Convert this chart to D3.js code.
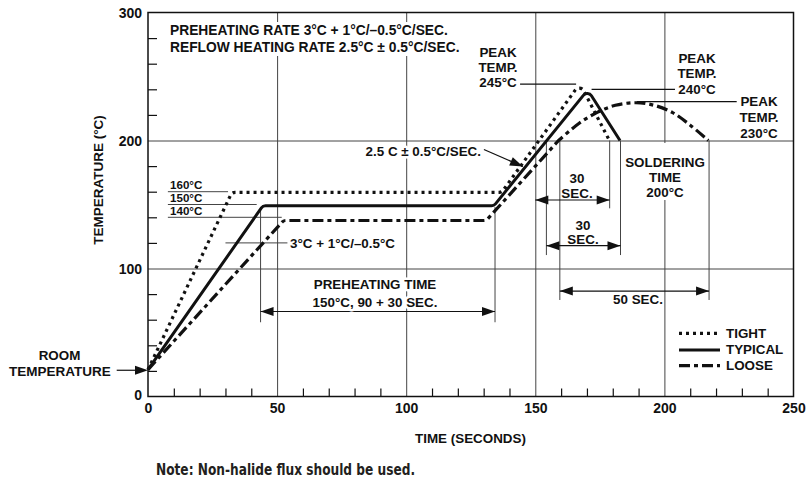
<!DOCTYPE html>
<html><head><meta charset="utf-8">
<script src="https://cdn.jsdelivr.net/npm/d3@7"></script>
<style>
body{margin:0;background:#fff}
svg text{font-family:"Liberation Sans",Arial,Helvetica,sans-serif;font-weight:bold;fill:#111}
</style></head><body>
<svg id="c" width="807" height="479"></svg>
<script>
// ---------- data ----------
const xTickLabels = [0, 50, 100, 150, 200, 250];
const yTickLabels = [0, 100, 200, 300];
const xGrid = [50, 100, 150, 200];
const yGrid = [100, 200];
const roomTemp = 20.5;
// profiles: [time (s), temperature (°C)]
const tight   = [[0,21],[32.5,159.5],[137,159.5],[167.3,244.5],[178.7,200]];
const typical = [[0,21],[44.5,149],[134,149],[170.3,239.5],[182.8,200]];
const looseRamp = [[0,21],[52.5,137.5],[131,137.5],[159,200]];
const looseArc  = [[159,200],[167,213.5],[174,222],[181,227.5],[189,229.5],[196,227.5],[203,222],[210,212],[217,200]];
const seriesNames = ["TIGHT","TYPICAL","LOOSE"];

// ---------- setup ----------
const svg = d3.select("#c");
const x = d3.scaleLinear().domain([0,250]).range([148,793.5]);
const y = d3.scaleLinear().domain([0,300]).range([396.5,12.5]);
const X0 = x(0), X1 = x(250), Y0 = y(0), Y1 = y(300);
const ink = "#111", grid = "#444";

// grid lines via axes
svg.append("g").attr("transform",`translate(0,${Y0})`)
  .call(d3.axisBottom(x).tickValues(xGrid).tickSize(-(Y0-Y1)).tickFormat(""))
  .call(g=>g.select(".domain").remove())
  .selectAll("line").attr("stroke",grid).attr("stroke-width",1);
svg.append("g").attr("transform",`translate(${X0},0)`)
  .call(d3.axisLeft(y).tickValues(yGrid).tickSize(-(X1-X0)).tickFormat(""))
  .call(g=>g.select(".domain").remove())
  .selectAll("line").attr("stroke",grid).attr("stroke-width",1);

// minor ticks
svg.append("g").attr("transform",`translate(0,${Y0})`)
  .call(d3.axisBottom(x).tickValues(d3.range(10,250,10).filter(v=>v%50)).tickSize(-8).tickFormat(""))
  .call(g=>g.select(".domain").remove())
  .selectAll("line").attr("stroke",ink).attr("stroke-width",1.2);
svg.append("g").attr("transform",`translate(${X0},0)`)
  .call(d3.axisLeft(y).tickValues(d3.range(20,300,20).filter(v=>v%100)).tickSize(-9).tickFormat(""))
  .call(g=>g.select(".domain").remove())
  .selectAll("line").attr("stroke",ink).attr("stroke-width",1.2);

// tick labels
const xa = svg.append("g").attr("transform",`translate(0,${Y0})`)
  .call(d3.axisBottom(x).tickValues(xTickLabels).tickSize(0).tickPadding(7));
xa.select(".domain").remove();
xa.selectAll("text").attr("font-size",14).attr("font-family",null).attr("fill",ink).attr("dy","0.71em");
const ya = svg.append("g").attr("transform",`translate(${X0-5},0)`)
  .call(d3.axisLeft(y).tickValues(yTickLabels).tickSize(0).tickPadding(1));
ya.select(".domain").remove();
ya.selectAll("text").attr("font-size",14).attr("font-family",null).attr("fill",ink)
  .attr("dy", d => d===0 ? "0.2em" : "0.36em");

// frame
svg.append("rect").attr("x",X0).attr("y",Y1).attr("width",X1-X0).attr("height",Y0-Y1)
  .attr("fill","none").attr("stroke",ink).attr("stroke-width",1.5);

// helpers
function txt(px, py, s, anchor="start", size=13.4, halo=false){
  const t = svg.append("text").attr("x",px).attr("y",py).attr("text-anchor",anchor)
    .attr("font-size",size).text(s);
  if(halo) t.attr("stroke","#fff").attr("stroke-width",5).attr("stroke-linejoin","round").attr("paint-order","stroke");
  return t;
}
function seg(x1,y1,x2,y2,w=1,c=grid){
  svg.append("line").attr("x1",x(x1)).attr("y1",y(y1)).attr("x2",x(x2)).attr("y2",y(y2))
    .attr("stroke",c).attr("stroke-width",w);
}
function head(tx, ty, ang, len=13, hw=4.5){
  const ca=Math.cos(ang), sa=Math.sin(ang);
  const bx=tx-len*ca, by=ty-len*sa;
  svg.append("path").attr("d",`M${tx},${ty}L${bx-hw*sa},${by+hw*ca}L${bx+hw*sa},${by-hw*ca}Z`).attr("fill",ink);
}
function dim(x1,x2,yv){
  const py=y(yv);
  svg.append("line").attr("x1",x(x1)).attr("x2",x(x2)).attr("y1",py).attr("y2",py).attr("stroke",ink).attr("stroke-width",1.2);
  head(x(x1),py,Math.PI); head(x(x2),py,0);
}
function rounded(pts, r){
  const p = d3.path();
  p.moveTo(pts[0][0],pts[0][1]);
  for(let i=1;i<pts.length-1;i++) p.arcTo(pts[i][0],pts[i][1],pts[i+1][0],pts[i+1][1],r);
  p.lineTo(pts[pts.length-1][0],pts[pts.length-1][1]);
  return p.toString();
}
const px = d => [x(d[0]), y(d[1])];

// header background
svg.append("rect").attr("x",166).attr("y",22).attr("width",294).attr("height",34).attr("fill","#fff");
// soldering background
svg.append("rect").attr("x",624).attr("y",143).attr("width",83).attr("height",57).attr("fill","#fff");

// reference lines (thin)
seg(7.7,160,31,160); seg(7.7,150,42.1,150); seg(7.7,140,51.8,140);
seg(30,120,54,120);
seg(43.6,148,43.6,58); seg(134.4,148,134.4,58);
seg(178.8,200,178.8,147); seg(154.3,200,154.3,110.5); seg(183,200,183,110.5);
seg(159.5,200,159.5,75.4); seg(217.3,200,217.3,75.4);
seg(144.1,244.1,165.8,244.1,1.2,ink);
seg(171.8,240,204.1,240,1.2,ink);
seg(189.3,230.3,228,230.3,1.2,ink);

// curves
const styles = {
  TIGHT:   {dash:"3,4", w:3.2},
  TYPICAL: {dash:null, w:3},
  LOOSE:   {dash:"11,4,4,4", w:3.2}
};
function curve(d, st){
  svg.append("path").attr("d",d).attr("fill","none").attr("stroke",ink)
    .attr("stroke-width",st.w).attr("stroke-dasharray",st.dash).attr("stroke-linejoin","round");
}
curve(rounded(tight.map(px),5), styles.TIGHT);
curve(rounded(typical.map(px),5), styles.TYPICAL);
const arcD = d3.line().x(d=>x(d[0])).y(d=>y(d[1])).curve(d3.curveCatmullRom.alpha(0.5))(looseArc);
curve(rounded(looseRamp.map(px),5) + arcD.replace(/^M[^A-Za-z]*/,""), styles.LOOSE);

// dimension arrows
dim(43.6,134.4,66.4);
dim(150,178.8,153.5);
dim(154.3,183,117.8);
dim(159.5,217.3,82.4);

// room temperature arrow
svg.append("line").attr("x1",116.7).attr("x2",X0-4).attr("y1",y(roomTemp)).attr("y2",y(roomTemp)).attr("stroke",ink).attr("stroke-width",1.2);
head(X0,y(roomTemp),0);
// 2.5C arrow
svg.append("line").attr("x1",x(130.1)).attr("y1",y(193)).attr("x2",x(145.2)).attr("y2",y(179.7)).attr("stroke",ink).attr("stroke-width",1.2);
head(x(145.2),y(179.7),Math.atan2(y(179.7)-y(193),x(145.2)-x(130.1)));

// texts
txt(170,35,"PREHEATING RATE 3°C + 1°C/–0.5°C/SEC.","start",13.8);
txt(170,51.5,"REFLOW HEATING RATE 2.5°C ± 0.5°C/SEC.","start",13.8);
txt(170,189,"160°C","start",11.6); txt(170,202.3,"150°C","start",11.6); txt(170,215.4,"140°C","start",11.6);
txt(290,247.5,"3°C + 1°C/–0.5°C");
txt(375,289,"PREHEATING TIME","middle",13.4,true);
txt(375,307,"150°C, 90 + 30 SEC.","middle",13.4,true);
txt(481,156,"2.5 C ± 0.5°C/SEC.","end",13.4,true);
txt(498,56.7,"PEAK","middle"); txt(498,71.7,"TEMP.","middle"); txt(498,87.3,"245°C","middle");
txt(697,63.3,"PEAK","middle"); txt(697,78.3,"TEMP.","middle"); txt(697,94,"240°C","middle");
txt(759,106,"PEAK","middle"); txt(759,121.7,"TEMP.","middle"); txt(759,137.7,"230°C","middle");
txt(665,167,"SOLDERING","middle"); txt(665,181.7,"TIME","middle"); txt(665,197,"200°C","middle");
txt(577,183.3,"30","middle"); txt(577,197.5,"SEC.","middle");
txt(583,230,"30","middle"); txt(583,244,"SEC.","middle");
txt(638,304,"50 SEC.","middle");
txt(59.5,360,"ROOM","middle"); txt(60,376,"TEMPERATURE","middle",13.5);

// legend
const legY = [333.3, 350, 365.7];
seriesNames.forEach((n,i)=>{
  svg.append("line").attr("x1",679).attr("x2",720).attr("y1",legY[i]).attr("y2",legY[i])
    .attr("stroke",ink).attr("stroke-width",styles[n].w).attr("stroke-dasharray",styles[n].dash);
  txt(726,legY[i]+4.3,n);
});

// axis titles
txt(470.5,443,"TIME (SECONDS)","middle",13.4);
svg.append("text").attr("transform","translate(103,180) rotate(-90)").attr("text-anchor","middle")
  .attr("font-size",13.5).text("TEMPERATURE (°C)");

// note
svg.append("text").attr("x",156).attr("y",475).attr("font-size",16)
  .style("font-family",'"DejaVu Sans Condensed","DejaVu Sans",sans-serif').style("font-stretch","condensed")
  .style("fill","#231f20").attr("textLength",259).attr("lengthAdjust","spacingAndGlyphs")
  .text("Note: Non-halide flux should be used.");
</script>
</body></html>
